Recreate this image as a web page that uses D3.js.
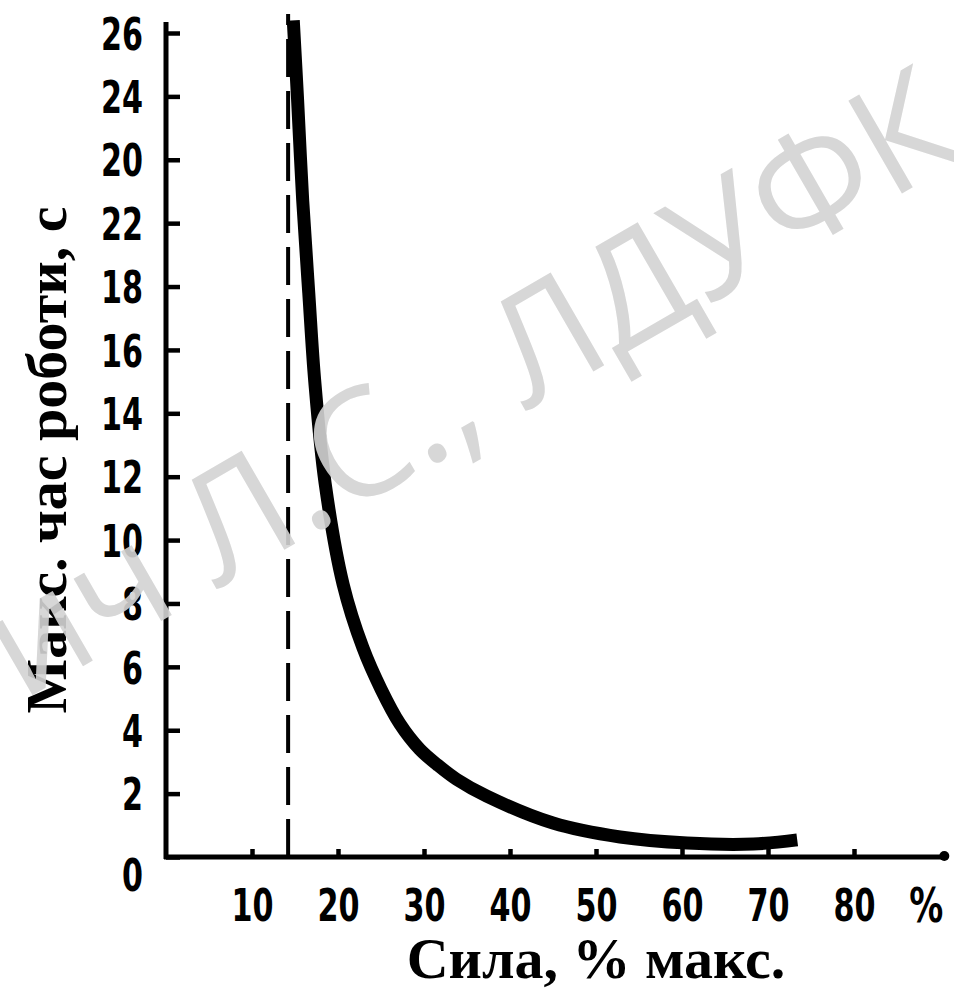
<!DOCTYPE html>
<html>
<head>
<meta charset="utf-8">
<script src="https://cdn.jsdelivr.net/npm/d3@7"></script>
<style>
  body { margin: 0; background: #fff; }
  svg { display: block; }
  .tick-label { font-family: "DejaVu Sans Condensed", "DejaVu Sans", sans-serif; font-weight: bold; }
  .axis-title { font-family: "Liberation Serif", serif; font-weight: bold; }
</style>
</head>
<body>
<svg id="chart" width="954" height="994"></svg>
<script>
// force (% of max) vs max work time (s)
const force = [14.8, 15.3, 15.9, 16.6, 17.3, 18.5, 20.6, 22.9, 25.0, 27.2, 29.5, 31.6, 33.8, 37.3, 45.0, 52.8, 60.6, 68.3, 73.4];
const time  = [26.4, 23.9, 20.7, 17.8, 15.0, 11.8, 8.6, 6.6, 5.3, 4.2, 3.4, 2.9, 2.45, 1.92, 1.07, 0.63, 0.44, 0.41, 0.54];

// dashed limit line
const limitForce = 14.2;

// ticks
const xTickValues = [10, 20, 30, 40, 50, 60, 70, 80];
const yTickValues = [0, 2, 4, 6, 8, 10, 12, 14, 16, 18, 20, 22, 24, 26];
// labels as printed in the book (20 and 22 are swapped there)
const yTickLabels = ["0", "2", "4", "6", "8", "10", "12", "14", "16", "18", "22", "20", "24", "26"];

const xTitle = "Сила, % макс.";
const yTitle = "Макс. час роботи, с";
const watermark = "ич Л.С., ЛДУФК";

const svg = d3.select("#chart");

const x = d3.scaleLinear().domain([0, 80]).range([166, 854]);
const y = d3.scaleLinear().domain([0, 26]).range([857, 33]);

// narrow digits like the book font: squeeze each label to ~21px per char
const digitW = 21;

//axes lines (drawn by hand so they can be thick)
svg.append("line")
  .attr("x1", x(0)).attr("x2", x(0))
  .attr("y1", y(0) + 2).attr("y2", y(26.35))
  .attr("stroke", "#000").attr("stroke-width", 5);

svg.append("line")
  .attr("x1", x(0) - 2).attr("x2", x(90.5))
  .attr("y1", y(0)).attr("y2", y(0))
  .attr("stroke", "#000").attr("stroke-width", 5);

svg.append("circle")
  .attr("cx", x(90.5)).attr("cy", y(0) - 1)
  .attr("r", 5).attr("fill", "#000");

// y axis, ticks go inward (right)
const yAxis = d3.axisLeft(y)
  .tickValues(yTickValues)
  .tickSizeInner(-14)
  .tickSizeOuter(0)
  .tickPadding(23)
  .tickFormat((d, i) => yTickLabels[i]);

const gy = svg.append("g")
  .attr("transform", `translate(${x(0)},0)`)
  .call(yAxis);
gy.select(".domain").remove();
gy.selectAll(".tick line").attr("stroke", "#000").attr("stroke-width", 4.5);
gy.selectAll(".tick text")
  .attr("class", "tick-label")
  .attr("font-size", 45)
  .attr("fill", "#000")
  .attr("textLength", function() { return this.textContent.length * digitW; })
  .attr("lengthAdjust", "spacingAndGlyphs")
  .attr("dy", d => d === 0 ? "0.75em" : "0.36em");

// x axis, ticks go up
const xAxis = d3.axisBottom(x)
  .tickValues(xTickValues)
  .tickSizeInner(-8)
  .tickSizeOuter(0);

const gx = svg.append("g")
  .attr("transform", `translate(0,${y(0)})`)
  .call(xAxis);
gx.select(".domain").remove();
gx.selectAll(".tick line").attr("stroke", "#000").attr("stroke-width", 4.5);
gx.selectAll(".tick text")
  .attr("class", "tick-label")
  .attr("font-size", 44)
  .attr("fill", "#000")
  .attr("textLength", function() { return this.textContent.length * digitW; })
  .attr("lengthAdjust", "spacingAndGlyphs")
  .attr("y", 48)
  .attr("dy", "0.36em");

// percent sign at the end of the x axis
svg.append("text")
  .attr("class", "tick-label")
  .attr("x", x(88.4)).attr("y", y(0) + 48)
  .attr("dy", "0.36em")
  .attr("text-anchor", "middle")
  .attr("font-size", 48)
  .attr("textLength", 34)
  .attr("lengthAdjust", "spacingAndGlyphs")
  .text("%");

// dashed vertical line
svg.append("line")
  .attr("x1", x(limitForce)).attr("x2", x(limitForce))
  .attr("y1", y(0)).attr("y2", y(26.6))
  .attr("stroke", "#000")
  .attr("stroke-width", 4)
  .attr("stroke-dasharray", "38,14");

// the curve
const pts = force.map((f, i) => [f, time[i]]);
const line = d3.line()
  .x(d => x(d[0]))
  .y(d => y(d[1]))
  .curve(d3.curveCatmullRom.alpha(0.5));

svg.append("path")
  .datum(pts)
  .attr("d", line)
  .attr("fill", "none")
  .attr("stroke", "#000")
  .attr("stroke-width", 13);

// axis titles
svg.append("text")
  .attr("class", "axis-title")
  .attr("x", 596).attr("y", 978)
  .attr("text-anchor", "middle")
  .attr("font-size", 58)
  .text(xTitle);

svg.append("text")
  .attr("class", "axis-title")
  .attr("transform", "translate(66,460) rotate(-90)")
  .attr("text-anchor", "middle")
  .attr("font-size", 58)
  .text(yTitle);

// watermark over the picture, placed so the "С" lands where it is in the scan
const wm = svg.append("text")
  .attr("font-family", "'Open Sans', 'Noto Sans', sans-serif")
  .attr("font-size", 150)
  .attr("fill", "#d3d3d3")
  .attr("opacity", 0.9)
  .text(watermark);
const box = wm.node().getExtentOfChar(watermark.indexOf("С"));
const cx = box.x + box.width / 2;
wm.attr("transform", `translate(383,493) rotate(-30) translate(${-cx},0)`);
</script>
</body>
</html>
